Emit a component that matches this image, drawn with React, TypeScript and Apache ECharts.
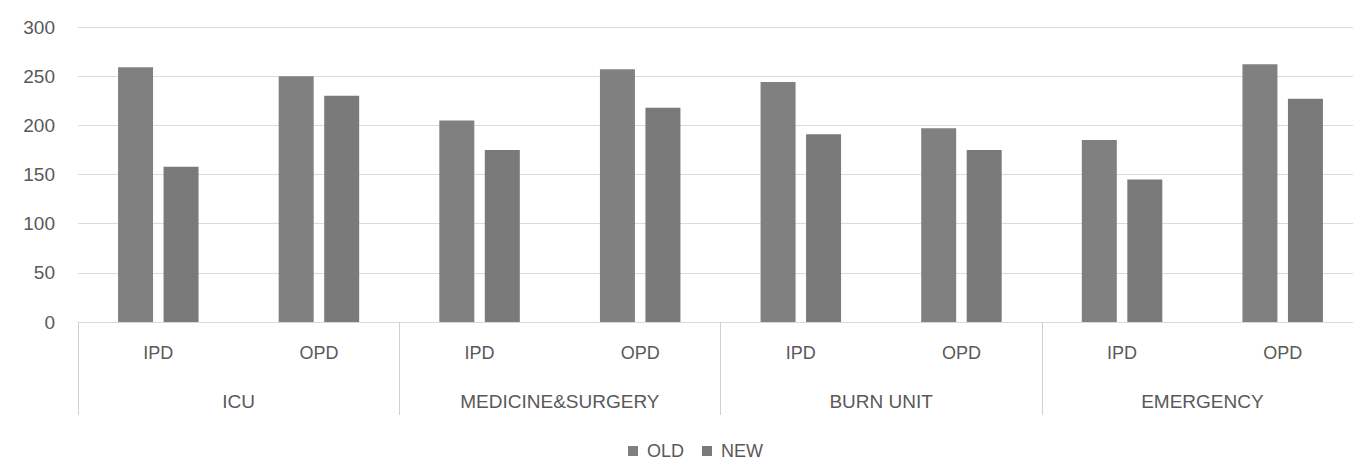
import React, { useEffect, useRef } from "react";
import * as echarts from "echarts";

const groups = ["ICU", "MEDICINE&SURGERY", "BURN UNIT", "EMERGENCY"];
const subCategories = ["IPD", "OPD", "IPD", "OPD", "IPD", "OPD", "IPD", "OPD"];
const oldValues = [259, 250, 205, 257, 244, 197, 185, 262];
const newValues = [158, 230, 175, 218, 191, 175, 145, 227];
const seriesNames = ["OLD", "NEW"];

const FONT = "'Liberation Sans', Arial, sans-serif";
const TEXT = "#595959";

export default function App() {
  const ref = useRef<HTMLDivElement>(null);
  useEffect(() => {
    if (!ref.current) return;
    const chart = echarts.init(ref.current, null, { renderer: "svg" });
    chart.setOption({
      animation: false,
      backgroundColor: "#ffffff",
      textStyle: { fontFamily: FONT },
      legend: {
        top: 442,
        left: 628,
        padding: 0,
        itemWidth: 10,
        itemHeight: 10,
        itemGap: 18,
        icon: "rect",
        data: seriesNames,
        textStyle: { color: TEXT, fontSize: 18, lineHeight: 18, fontFamily: FONT, padding: [0, 0, 0, 4] },
      },
      grid: { left: 78, top: 27, width: 1285, height: 295 },
      xAxis: [
        {
          type: "category",
          data: subCategories,
          position: "bottom",
          axisLine: { show: true, lineStyle: { color: "#d9d9d9", width: 1 } },
          axisTick: { show: false },
          axisLabel: { color: TEXT, fontSize: 18, margin: 22, fontFamily: FONT },
        },
        {
          type: "category",
          data: groups,
          position: "bottom",
          axisLine: { show: false },
          axisTick: { show: true, length: 93, lineStyle: { color: "#d0d0d0", width: 1 } },
          axisLabel: { color: TEXT, fontSize: 19, margin: 70, fontFamily: FONT },
          splitLine: { show: false },
        },
      ],
      yAxis: {
        type: "value",
        min: 0,
        max: 300,
        interval: 50,
        axisLine: { show: false },
        axisTick: { show: false },
        axisLabel: { color: TEXT, fontSize: 19, margin: 23, fontFamily: FONT },
        splitLine: { lineStyle: { color: "#dadae0", width: 1 } },
      },
      series: [
        {
          name: seriesNames[0],
          type: "bar",
          xAxisIndex: 0,
          data: oldValues,
          barWidth: 35,
          barGap: "30%",
          itemStyle: { color: "#808080" },
        },
        {
          name: seriesNames[1],
          type: "bar",
          xAxisIndex: 0,
          data: newValues,
          barWidth: 35,
          barGap: "30%",
          itemStyle: { color: "#7a7a7a" },
        },
      ],
    });
    return () => chart.dispose();
  }, []);
  return (
    <div style={{ position: "absolute", left: 0, top: 0, width: 1353, height: 462, overflow: "hidden" }}>
      <div ref={ref} style={{ position: "absolute", left: 0, top: 0, width: 1380, height: 462 }} />
    </div>
  );
}
